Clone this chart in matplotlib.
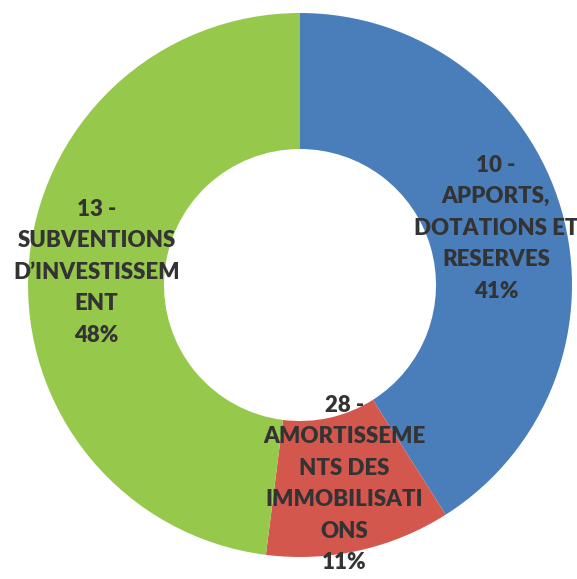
import matplotlib
matplotlib.use('Agg')
import matplotlib.pyplot as plt
import numpy as np

# Data
labels = ['10 -\nAPPORTS,\nDOTATIONS ET\nRESERVES',
          '28 -\nAMORTISSEME\nNTS DES\nIMMOBILISATI\nONS',
          '13 -\nSUBVENTIONS\nD\u2019INVESTISSEM\nENT']
shares = [41, 11, 48]
colors = ['#4A7EBB', '#D4574E', '#96C84C']

fig = plt.figure(figsize=(5.77, 5.79), dpi=100)
ax = fig.add_axes([0, 0, 1, 1])

R = 272.0
wedges, _ = ax.pie(shares, colors=colors, startangle=90, counterclock=False,
                   radius=1.0, wedgeprops=dict(width=0.5, edgecolor='none'))

# Label each wedge at its mid angle
for w, lab, val in zip(wedges, labels, shares):
    mid = np.deg2rad((w.theta1 + w.theta2) / 2)
    r = 0.75
    ax.text(r * np.cos(mid), r * np.sin(mid), f'{lab}\n{val}%',
            ha='center', va='center', fontsize=16, fontweight='heavy',
            family=['Lato', 'DejaVu Sans'], color='#333333', linespacing=1.62)

ax.set_aspect('equal')
ax.set_xlim(-300 / R, 277 / R)
ax.set_ylim(-294 / R, 285 / R)
ax.axis('off')

fig.savefig('out.png', dpi=100)
